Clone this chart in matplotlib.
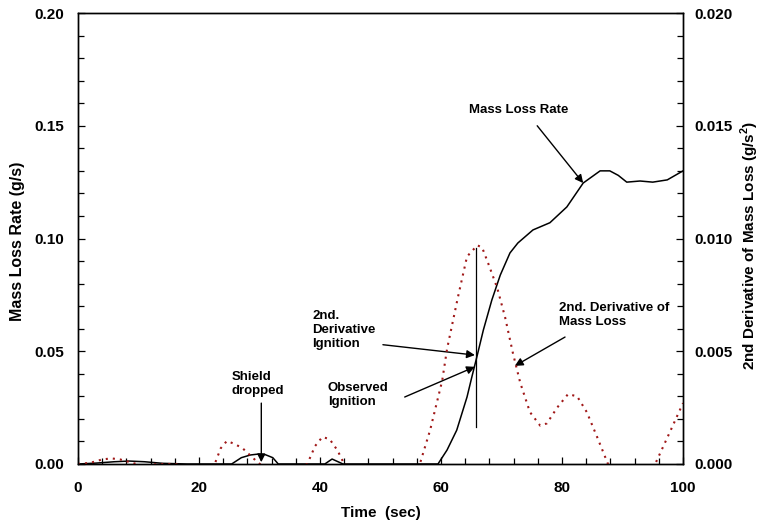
import matplotlib
matplotlib.use("Agg")
import matplotlib.pyplot as plt
from matplotlib.ticker import MultipleLocator, FormatStrFormatter

plt.rcParams['font.family'] = ['Liberation Sans', 'DejaVu Sans']
plt.rcParams['font.weight'] = 'bold'
plt.rcParams['axes.labelweight'] = 'bold'

# mass loss rate (g/s), left axis
time_mlr = [0, 3, 6, 8.5, 11, 14, 18, 25.4, 27, 28.5, 29.8, 31, 32.2, 33.1,
            40.8, 42, 43.8, 55, 59.5, 61, 62.6, 64.3, 65.1, 66, 67, 68.4, 69.8,
            71.4, 72.7, 75.2, 78, 80.8, 83.5, 86.3, 87.9, 89.3, 90.7, 92.9, 95,
            97.4, 100]
mlr = [0, 0.0004, 0.001, 0.0013, 0.001, 0.0003, 0, 0, 0.0028, 0.0040, 0.0044,
       0.0041, 0.0028, 0, 0, 0.0022, 0, 0, 0, 0.0062, 0.015, 0.0297, 0.0386,
       0.0483, 0.0594, 0.0727, 0.0838, 0.0936, 0.098, 0.1038, 0.107, 0.114,
       0.1246, 0.130, 0.130, 0.128, 0.125, 0.1255, 0.125, 0.126, 0.130]

# second derivative of mass loss (g/s^2), right axis
time_d2 = [0, 2, 4, 5.5, 7, 9, 11, 13, 16, 20, 22.6, 23.6, 24.6, 25.8, 27.2,
           28.4, 29.6, 31, 36, 37.9, 39.2, 40.4, 41.6, 42.9, 44, 46, 50, 54,
           56.5, 58.2, 60.2, 61, 62.8, 64.3, 66, 66.8, 67.8, 69.3, 70.6, 71.9,
           73.1, 74.7, 76.4, 77.5, 79.2, 81, 82.5, 84.1, 85.8, 87.6, 89, 91,
           93.5, 95.4, 97.8, 100]
d2 = [0, 0.00005, 0.0002, 0.00025, 0.0002, 0.00005, -0.0001, 0.0, 0.0, -0.0002,
      0, 0.0007, 0.00102, 0.0009, 0.0007, 0.0004, 0.0001, -0.0002, -0.0002, 0,
      0.0008, 0.0012, 0.0011, 0.0006, 0, -0.0002, -0.0001, -0.0002,
      0, 0.0015, 0.0037, 0.0051, 0.0074, 0.0092, 0.0097, 0.0096, 0.0089,
      0.0078, 0.0065, 0.0049, 0.0036, 0.0023, 0.0017, 0.0018, 0.0025, 0.0031,
      0.0030, 0.0023, 0.0012, 0, -0.0008, -0.0012, -0.0008, 0, 0.0014, 0.0027]

ignition_time = 65.8
ignition_span = [0.0164, 0.096]

fig = plt.figure(figsize=(7.6, 5.25), dpi=100)
ax = fig.add_axes([0.1026, 0.1162, 0.7961, 0.859])
ax2 = ax.twinx()

ax.plot(time_mlr, mlr, color='black', lw=1.1, zorder=3)
ax2.plot(time_d2, d2, color='#a01818', lw=1.5, linestyle=(0, (1, 2.4)))
ax.plot([ignition_time, ignition_time], ignition_span, color='black', lw=0.9)

ax.set_xlim(0, 100)
ax.set_ylim(0, 0.20)
ax2.set_ylim(0, 0.020)

ax.xaxis.set_major_locator(MultipleLocator(20))
ax.xaxis.set_minor_locator(MultipleLocator(4))
ax.yaxis.set_major_locator(MultipleLocator(0.05))
ax.yaxis.set_minor_locator(MultipleLocator(0.01))
ax.yaxis.set_major_formatter(FormatStrFormatter('%.2f'))
ax2.yaxis.set_major_locator(MultipleLocator(0.005))
ax2.yaxis.set_minor_locator(MultipleLocator(0.001))
ax2.yaxis.set_major_formatter(FormatStrFormatter('%.3f'))

for a in (ax, ax2):
    a.tick_params(which='both', direction='in', labelsize=11, width=0.9, pad=10)
    a.tick_params(which='major', length=5)
    a.tick_params(which='minor', length=4)
    for s in a.spines.values():
        s.set_linewidth(1.0)
ax2.tick_params(axis='y', pad=8)
ax.tick_params(axis='x', pad=12)
ax.tick_params(axis='y', right=False)

ax.set_xlabel('Time  (sec)', fontsize=11)
ax.xaxis.set_label_coords(0.5, -0.109)
ax.xaxis.label.set_va('center')

ax.set_ylabel('Mass Loss Rate (g/s)', fontsize=11.5)
ax.yaxis.label.set(va='center', ha='center')
ax.yaxis.set_label_coords(-0.100, 0.494)

ax2.set_ylabel('2nd Derivative of Mass Loss (g/s$^\\mathregular{2}$)', fontsize=11)
ax2.yaxis.label.set(va='center', ha='center', rotation=90)
ax2.yaxis.set_label_coords(1.111, 0.486)

arrow = dict(arrowstyle='-|>', color='black', lw=1.0, mutation_scale=12, shrinkA=0, shrinkB=0)
txt = dict(fontsize=9.5, fontweight='bold', linespacing=1.2)

ax.text(72.9, 0.157, 'Mass Loss Rate', ha='center', va='center', **txt)
ax.annotate('', xy=(83.5, 0.1246), xytext=(75.9, 0.150), arrowprops=arrow)

ax.text(79.5, 0.066, '2nd. Derivative of\nMass Loss', ha='left', va='center', **txt)
ax.annotate('', xy=(72.2, 0.0435), xytext=(80.5, 0.0563), arrowprops=arrow)

ax.text(38.7, 0.0595, '2nd.\nDerivative\nIgnition', ha='left', va='center', **txt)
ax.annotate('', xy=(65.6, 0.0483), xytext=(50.4, 0.0529), arrowprops=arrow)

ax.text(41.3, 0.0306, 'Observed\nIgnition', ha='left', va='center', **txt)
ax.annotate('', xy=(65.6, 0.0431), xytext=(54.0, 0.0297), arrowprops=arrow)

ax.text(25.4, 0.0353, 'Shield\ndropped', ha='left', va='center', **txt)
ax.annotate('', xy=(30.3, 0.0008), xytext=(30.3, 0.0270), arrowprops=arrow)

fig.savefig('out.png', dpi=100)
